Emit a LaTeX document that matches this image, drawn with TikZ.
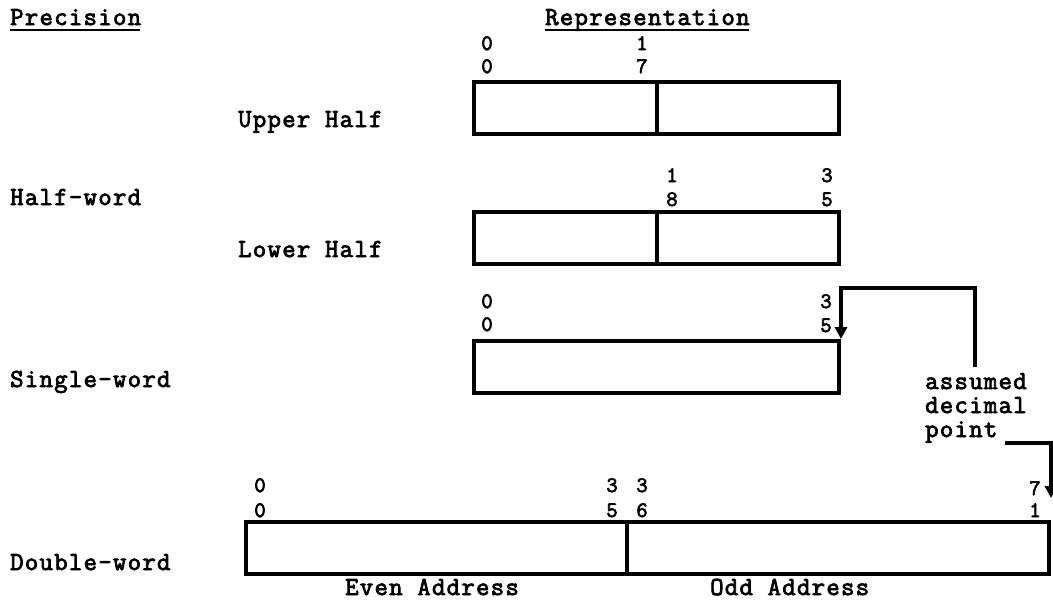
\documentclass[tikz,border=0pt]{standalone}
\usepackage{fontspec}
\usetikzlibrary{arrows.meta}
\newfontfamily\twf{Latin Modern Mono}[LetterSpace=5, FakeBold=3]
\newcommand{\twfont}{\twf\fontsize{26}{24}\selectfont}
\newcommand{\digfont}{\twf\fontsize{22}{22}\selectfont}
\tikzset{
  txt/.style={inner sep=0pt, anchor=base west, font=\twfont},
  dig/.style={inner sep=0pt, anchor=base, font=\digfont},
  cellbox/.style={draw, line width=4pt, inner sep=0pt, minimum height=52pt, line join=miter},
  arr/.style={line width=4pt, -{Triangle[width=12pt,length=12pt]}},
  uline/.style={line width=2.5pt}
}
\begin{document}
\begin{tikzpicture}[x=1pt,y=-1pt]
\useasboundingbox (0,0) rectangle (1053,600);
% headers
\node[txt] (prec) at (10,25) {Precision};
\node[txt] (repr) at (545,25) {Representation};
\draw[uline] ([yshift=-5pt]prec.base west) -- ([yshift=-5pt,xshift=-1pt]prec.base east);
\draw[uline] ([yshift=-5pt]repr.base west) -- ([yshift=-5pt,xshift=-1pt]repr.base east);
% side labels
\node[txt] (uh) at (238,127) {Upper Half};
\node[txt] (hw) at (10,205) {Half-word};
\node[txt] (lh) at (238,257) {Lower Half};
\node[txt] (sw) at (10,387) {Single-word};
\node[txt] (dw) at (10,570) {Double-word};
\node[txt] (ea) at (345,595) {Even Address};
\node[txt] (oa) at (710,595) {Odd Address};
\node[txt] (as1) at (925,389) {assumed};
\node[txt] (as2) at (925,413) {decimal};
\node[txt] (as3) at (925,437) {point};
% boxes
\node[cellbox, minimum width=365pt] (upper) at (656.5,108) {};
\draw[line width=4pt] (upper.north) -- (upper.south);
\node[cellbox, minimum width=365pt] (lower) at (656.5,238) {};
\draw[line width=4pt] (lower.north) -- (lower.south);
\node[cellbox, minimum width=365pt] (single) at (656.5,367) {};
\node[cellbox, minimum width=381pt] (even) at (436.5,548) {};
\node[cellbox, minimum width=422pt] (odd) at (838,548) {};
% bit numbers
\foreach \n/\x/\y/\t in {
  a/487/50/0, b/487/73/0, c/642/50/1, d/642/73/7,
  e/672/182/1, f/672/206/8, g/827/182/3, h/827/206/5,
  i/487/308/0, j/487/331/0, k/826/308/3, l/826/332/5,
  m/260/492/0, n/260/517/0, o/612/492/3, p/612/517/5,
  q/642/492/3, r/642/517/6, s/1035/495/7, t/1035/517/1}
  \node[dig] (bit\n) at (\x,\y) {\t};
% assumed decimal point arrows
\coordinate (ap1) at (975,367);
\coordinate (ap2) at (1005,443);
\draw[arr] (ap1) -- ++(0,-79) -| (single.north east);
\draw[arr, shorten >=22pt] (ap2) -| (odd.north east);
\end{tikzpicture}
\end{document}
